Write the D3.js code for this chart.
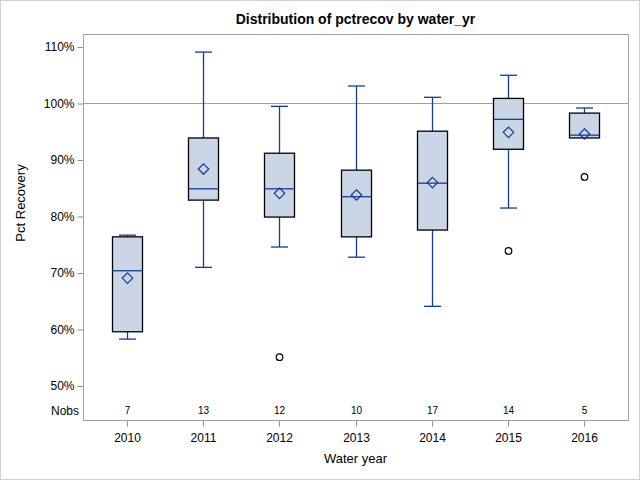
<!DOCTYPE html>
<html>
<head>
<meta charset="utf-8">
<script src="https://cdn.jsdelivr.net/npm/d3@7"></script>
<style>
  body { margin: 0; background: #fff; }
  text { font-family: "Liberation Sans", Arial, sans-serif; fill: #000; }
</style>
</head>
<body>
<div id="chart"></div>
<script>
// water years and the box statistics (percent)
var years = ["2010", "2011", "2012", "2013", "2014", "2015", "2016"];
var lowWhisker = [58.3, 71.0, 74.6, 72.8, 64.1, 81.5, 93.9];
var q1 = [59.6, 82.9, 79.9, 76.4, 77.6, 91.9, 93.9];
var median = [70.4, 84.9, 84.9, 83.5, 85.9, 97.2, 94.4];
var q3 = [76.4, 93.9, 91.2, 88.2, 95.1, 100.9, 98.3];
var highWhisker = [76.7, 109.1, 99.5, 103.1, 101.1, 105.0, 99.2];
var means = [69.1, 88.4, 84.1, 83.8, 86.0, 94.9, 94.6];
var nobs = [7, 13, 12, 10, 17, 14, 5];
var outliers = [[], [], [55.1], [], [], [73.9], [87.0]];
var yTicks = [50, 60, 70, 80, 90, 100, 110];
var refLine = 100;

var width = 640, height = 480;
var plotL = 83, plotR = 628, plotT = 34, plotB = 420;

var svg = d3.select("#chart").append("svg")
	.attr("width", width).attr("height", height);

// outer border
svg.append("rect")
	.attr("x", 0.5).attr("y", 0.5)
	.attr("width", width - 1).attr("height", height - 1)
	.attr("fill", "none").attr("stroke", "#d0d0d0");

var x = d3.scalePoint()
	.domain(years)
	.range([plotL, plotR])
	.padding(0.575);

var y = d3.scaleLinear()
	.domain([50, 110])
	.range([386, 47]);

var blue = "#103c9a";
var boxW = 30, capW = 16;

// reference line at 100%
svg.append("line")
	.attr("x1", plotL).attr("x2", plotR)
	.attr("y1", Math.round(y(refLine)) + 0.5).attr("y2", Math.round(y(refLine)) + 0.5)
	.attr("stroke", "#a0a0a0");

var boxes = svg.append("g").selectAll("g")
	.data(years).enter()
	.append("g")
	.attr("transform", d => "translate(" + Math.round(x(d)) + ",0)");

// whiskers
boxes.append("line")
	.attr("x1", 0.5).attr("x2", 0.5)
	.attr("y1", (d, i) => y(highWhisker[i])).attr("y2", (d, i) => y(q3[i]))
	.attr("stroke", blue).attr("stroke-width", 1.3);
boxes.append("line")
	.attr("x1", 0.5).attr("x2", 0.5)
	.attr("y1", (d, i) => y(q1[i])).attr("y2", (d, i) => y(lowWhisker[i]))
	.attr("stroke", blue).attr("stroke-width", 1.3);

// caps
boxes.append("line")
	.attr("x1", -capW / 2).attr("x2", capW / 2 + 1)
	.attr("y1", (d, i) => y(highWhisker[i])).attr("y2", (d, i) => y(highWhisker[i]))
	.attr("stroke", blue).attr("stroke-width", 1.3);
boxes.append("line")
	.attr("x1", -capW / 2).attr("x2", capW / 2 + 1)
	.attr("y1", (d, i) => y(lowWhisker[i])).attr("y2", (d, i) => y(lowWhisker[i]))
	.attr("stroke", blue).attr("stroke-width", 1.3)
	.style("display", (d, i) => lowWhisker[i] >= q1[i] ? "none" : null);

// box
boxes.append("rect")
	.attr("x", -boxW / 2 + 0.5)
	.attr("y", (d, i) => y(q3[i]))
	.attr("width", boxW)
	.attr("height", (d, i) => y(q1[i]) - y(q3[i]))
	.attr("fill", "#cad5e5")
	.attr("stroke", "#000").attr("stroke-width", 1.3);

// median
boxes.append("line")
	.attr("x1", -boxW / 2 + 1).attr("x2", boxW / 2)
	.attr("y1", (d, i) => y(median[i])).attr("y2", (d, i) => y(median[i]))
	.attr("stroke", blue).attr("stroke-width", 1.3);

// mean diamond
boxes.append("path")
	.attr("d", d3.symbol(d3.symbolDiamond2, 70))
	.attr("transform", (d, i) => "translate(0.5," + y(means[i]) + ")")
	.attr("fill", "none").attr("stroke", blue).attr("stroke-width", 1.2);

// outliers
boxes.selectAll("circle")
	.data((d, i) => outliers[i]).enter()
	.append("circle")
	.attr("cx", 0.5).attr("cy", d => y(d))
	.attr("r", 3.3)
	.attr("fill", "none").attr("stroke", "#000").attr("stroke-width", 1.2);

// Nobs row
boxes.append("text")
	.attr("x", 0.5).attr("y", 414)
	.attr("text-anchor", "middle")
	.style("font-size", "10px")
	.text((d, i) => nobs[i]);
svg.append("text")
	.attr("x", 79).attr("y", 415)
	.attr("text-anchor", "end")
	.style("font-size", "12px")
	.text("Nobs");

// axes
var yAxis = d3.axisLeft(y).tickValues(yTicks).tickSize(6).tickPadding(3)
	.tickFormat(d => d + "%");
var yG = svg.append("g")
	.attr("transform", "translate(" + (plotL + 0.5) + ",0)")
	.call(yAxis);

var xAxis = d3.axisBottom(x).tickSize(6).tickPadding(7);
var xG = svg.append("g")
	.attr("transform", "translate(0," + (plotB + 0.5) + ")")
	.call(xAxis);

[yG, xG].forEach(function (g) {
	g.select(".domain").remove();
	g.selectAll("line").attr("stroke", "#909090");
	g.selectAll("text").style("font-size", "12px").style("font-family", "'Liberation Sans', Arial, sans-serif").attr("fill", "#000");
});
xG.selectAll(".tick").attr("transform", d => "translate(" + (Math.round(x(d)) + 0.5) + ",0)");

// plot frame
svg.append("rect")
	.attr("x", plotL + 0.5).attr("y", plotT + 0.5)
	.attr("width", plotR - plotL).attr("height", plotB - plotT)
	.attr("fill", "none").attr("stroke", "#a0a0a0");

// titles
svg.append("text")
	.attr("x", (plotL + plotR) / 2).attr("y", 24)
	.attr("text-anchor", "middle")
	.style("font-size", "14px").style("font-weight", "bold")
	.text("Distribution of pctrecov by water_yr");

svg.append("text")
	.attr("x", (plotL + plotR) / 2).attr("y", 463)
	.attr("text-anchor", "middle")
	.style("font-size", "13px")
	.text("Water year");

svg.append("text")
	.attr("transform", "translate(25,203) rotate(-90)")
	.attr("text-anchor", "middle")
	.style("font-size", "13px")
	.text("Pct Recovery");
</script>
</body>
</html>
